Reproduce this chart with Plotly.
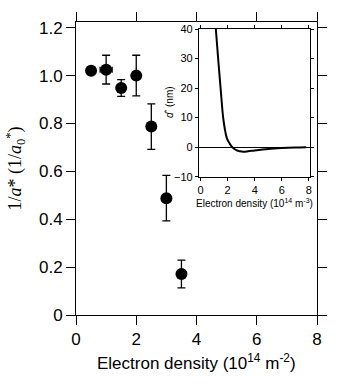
import plotly.graph_objects as go

# Main data
density = [0.5, 1.0, 1.5, 2.0, 2.5, 3.0, 3.5]
inv_a = [1.02, 1.025, 0.948, 1.0, 0.787, 0.488, 0.171]
inv_a_err = [0.015, 0.06, 0.035, 0.085, 0.095, 0.095, 0.058]
density_err = [0.0, 0.2, 0.0, 0.0, 0.0, 0.0, 0.0]

# Inset curve d* vs density
inset_x = [1.13, 1.30, 1.48, 1.67, 1.80, 1.92, 2.05, 2.29, 2.5, 2.75, 3.05, 3.5, 4.0, 5.0, 6.0, 7.0, 7.8]
inset_y = [40, 30, 20, 10, 6, 3.4, 2.0, 0.3, -0.6, -1.2, -1.5, -1.4, -1.1, -0.6, -0.3, -0.1, 0.0]

main_ticks_x = [0, 2, 4, 6, 8]
main_ticks_y = [0, 0.2, 0.4, 0.6, 0.8, 1.0, 1.2]
main_ticks_y_text = ["0", "0.2", "0.4", "0.6", "0.8", "1.0", "1.2"]
inset_ticks_x = [0, 2, 4, 6, 8]
inset_ticks_y = [-10, 0, 10, 20, 30, 40]

FONT = "Liberation Sans, Arial, sans-serif"

fig = go.Figure()
fig.add_trace(go.Scatter(
    x=density, y=inv_a, mode="markers",
    marker=dict(color="black", size=12),
    error_y=dict(type="data", array=inv_a_err, color="black", thickness=1.3, width=4),
    error_x=dict(type="data", array=density_err, color="black", thickness=1.3, width=3),
    xaxis="x", yaxis="y", showlegend=False,
))
fig.add_trace(go.Scatter(
    x=inset_x, y=inset_y, mode="lines", line=dict(color="black", width=2, shape="spline"),
    xaxis="x2", yaxis="y2", showlegend=False,
))

ax_common = dict(showgrid=False, zeroline=False, showline=True, linecolor="black", linewidth=1,
                 ticks="outside", tickcolor="black", mirror="allticks")

fig.update_layout(
    width=339, height=387,
    margin=dict(l=76, r=22, t=16, b=72),
    paper_bgcolor="white", plot_bgcolor="white",
    font=dict(family=FONT, color="black"),
    xaxis=dict(**ax_common, domain=[0, 1], range=[0, 8], tickvals=main_ticks_x,
               ticklen=9, tickwidth=1, tickfont=dict(size=17)),
    yaxis=dict(**ax_common, domain=[0, 1], range=[0, 1.224], tickvals=main_ticks_y,
               ticktext=main_ticks_y_text, ticklen=9, tickwidth=1, tickfont=dict(size=17)),
    xaxis2=dict(showgrid=False, zeroline=False, showline=True, linecolor="black", linewidth=1,
                ticks="outside", tickcolor="black", mirror="allticks",
                domain=[0.510, 0.973], range=[-0.12, 8.12], tickvals=inset_ticks_x,
                ticklen=3, tickfont=dict(size=11), anchor="y2"),
    yaxis2=dict(showgrid=False, zeroline=True, zerolinecolor="black", zerolinewidth=1.2,
                showline=True, linecolor="black", linewidth=1,
                ticks="outside", tickcolor="black", mirror="allticks",
                domain=[0.472, 0.976], range=[-10, 40], tickvals=inset_ticks_y,
                ticklen=3, tickfont=dict(size=11), anchor="x2"),
    annotations=[
        dict(text="Electron density (10<sup>14</sup> m<sup>-2</sup>)", xref="paper", yref="paper",
             x=0.5, y=-0.16, xanchor="center", yanchor="middle", showarrow=False,
             font=dict(size=17, family=FONT)),
        dict(text="1/<i>a</i>* (1/<i>a</i><sub>0</sub><sup>*</sup>)", xref="paper", yref="paper",
             x=-0.253, y=0.5, xanchor="center", yanchor="middle", showarrow=False, textangle=-90,
             font=dict(size=18, family="Liberation Serif, Times New Roman, serif")),
        dict(text="Electron density (10<sup>14</sup> m<sup>-3</sup>)", xref="paper", yref="paper",
             x=0.742, y=0.381, xanchor="center", yanchor="middle", showarrow=False,
             font=dict(size=10, family=FONT)),
        dict(text="<i>d</i><sup>*</sup> (nm)", xref="paper", yref="paper",
             x=0.385, y=0.726, xanchor="center", yanchor="middle", showarrow=False, textangle=-90,
             font=dict(size=10, family=FONT)),
    ],
)

fig.write_html("out.html")
